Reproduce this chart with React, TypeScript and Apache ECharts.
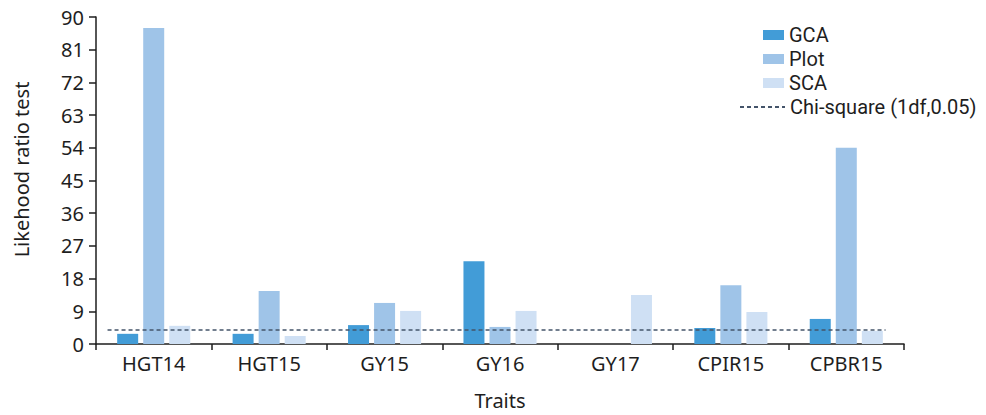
import React, { useEffect, useRef } from "react";
import * as echarts from "echarts";

const categories = ["HGT14", "HGT15", "GY15", "GY16", "GY17", "CPIR15", "CPBR15"];
const gcaValues = [2.8, 2.8, 5.2, 22.8, 0, 4.4, 6.9];
const plotValues = [87.0, 14.6, 11.3, 4.7, 0, 16.2, 54.0];
const scaValues = [5.0, 2.2, 9.1, 9.1, 13.5, 8.8, 3.6];
const chiValue = 3.84;
const chiSpan = [0.1, 6.84];
const yTicks = { min: 0, max: 90, interval: 9 };

const FONT = "Noto Sans";
const LEGEND_FONT = "Roboto";
const TXT = "#1e1e1e";
const FS = 20;

export default function App() {
  const ref = useRef<HTMLDivElement>(null);
  useEffect(() => {
    if (!ref.current) return;
    const chart = echarts.init(ref.current, undefined, { renderer: "svg" });
    const barCommon = {
      type: "bar" as const,
      barWidth: 21,
      barGap: "24%",
      xAxisIndex: 0,
      yAxisIndex: 0,
    };
    const legendText = { fontFamily: LEGEND_FONT, fontSize: FS, color: TXT, lineHeight: 24 };
    chart.setOption({
      animation: false,
      textStyle: { fontFamily: FONT },
      grid: { left: 96, top: 17, right: 82, bottom: 71, containLabel: false },
      legend: [
        {
          data: ["GCA", "Plot", "SCA"],
          orient: "vertical",
          left: 763,
          top: 23,
          padding: 0,
          itemWidth: 21,
          itemHeight: 10,
          itemGap: 0,
          icon: "rect",
          textStyle: legendText,
        },
        {
          data: ["Chi-square (1df,0.05)"],
          orient: "vertical",
          left: 739,
          top: 95,
          padding: 0,
          itemWidth: 45,
          itemHeight: 10,
          itemStyle: { color: "transparent", borderWidth: 0 },
          textStyle: legendText,
        },
      ],
      xAxis: [
        {
          type: "category",
          data: categories,
          boundaryGap: true,
          name: "Traits",
          nameLocation: "middle",
          nameGap: 46,
          nameTextStyle: { fontFamily: FONT, fontSize: FS, color: TXT },
          axisLine: { lineStyle: { color: TXT, width: 1.5 } },
          axisTick: { show: true, length: 6, inside: false, lineStyle: { color: TXT, width: 1.5 } },
          axisLabel: { fontFamily: FONT, fontSize: FS, color: TXT, margin: 9 },
        },
        {
          type: "value",
          min: 0,
          max: categories.length,
          show: false,
        },
      ],
      yAxis: {
        type: "value",
        min: yTicks.min,
        max: yTicks.max,
        interval: yTicks.interval,
        name: "Likehood ratio test",
        nameLocation: "middle",
        nameGap: 65,
        nameTextStyle: { fontFamily: FONT, fontSize: FS, color: TXT, padding: [0, 0, 0, 22] },
        axisLine: { show: true, lineStyle: { color: TXT, width: 1.5 } },
        axisTick: { show: true, length: 7, lineStyle: { color: TXT, width: 1.5 } },
        axisLabel: { fontFamily: FONT, fontSize: FS, color: TXT, margin: 12 },
        splitLine: { show: false },
      },
      series: [
        { ...barCommon, name: "GCA", data: gcaValues, itemStyle: { color: "#429cd7" } },
        { ...barCommon, name: "Plot", data: plotValues, itemStyle: { color: "#9fc4e8" } },
        { ...barCommon, name: "SCA", data: scaValues, itemStyle: { color: "#cfe0f4" } },
        {
          type: "line",
          name: "Chi-square (1df,0.05)",
          xAxisIndex: 1,
          yAxisIndex: 0,
          data: chiSpan.map((x) => [x, chiValue]),
          symbol: "none",
          itemStyle: { color: "#44546a" },
          lineStyle: { color: "#44546a", width: 1.5, type: [4, 3] },
          z: 5,
        },
      ],
    });
    return () => chart.dispose();
  }, []);
  return (
    <div
      ref={ref}
      style={{ position: "absolute", left: 0, top: 0, width: 986, height: 415, background: "#fff" }}
    />
  );
}
